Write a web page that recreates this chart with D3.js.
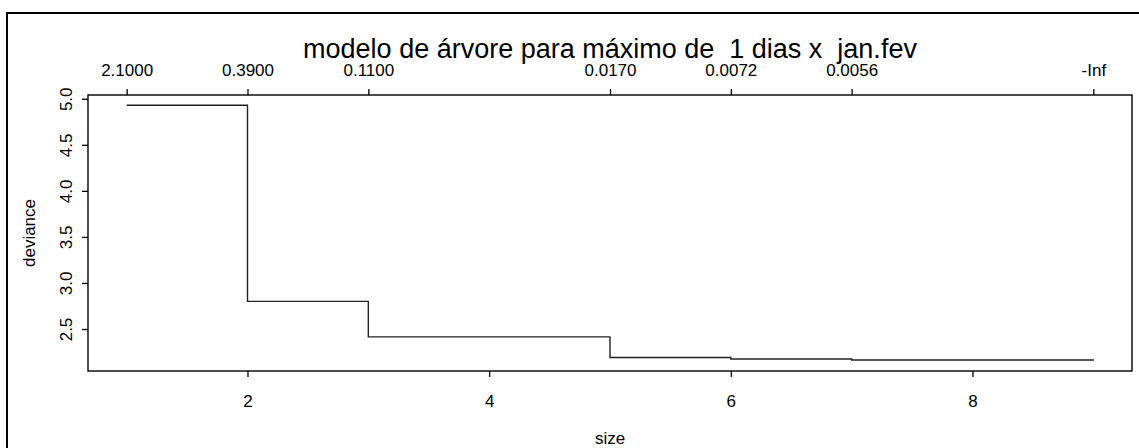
<!DOCTYPE html>
<html>
<head>
<meta charset="utf-8">
<script src="https://cdn.jsdelivr.net/npm/d3@7"></script>
<style>
  body { margin: 0; background: #fff; }
  svg text { font-family: "Liberation Sans", Arial, sans-serif; fill: #000; }
</style>
</head>
<body>
<div id="chart"></div>
<script>
const sizes = [1, 2, 3, 5, 6, 7, 9]
const deviance = [4.93, 2.80, 2.415, 2.19, 2.175, 2.163, 2.155]
const topLabels = ['2.1000', '0.3900', '0.1100', '0.0170', '0.0072', '0.0056', '-Inf']
const xTicks = [2, 4, 6, 8]
const yTicks = [2.5, 3.0, 3.5, 4.0, 4.5, 5.0]
const title = 'modelo de árvore para máximo de  1 dias x  jan.fev'

let width = 1139
let height = 448
let box = { left: 88, right: 1132, top: 95, bottom: 371 }

// R style 4% padding on both axes
let pad = (lo, hi) => [lo - (hi - lo) * 0.04, hi + (hi - lo) * 0.04]

let x = d3.scaleLinear()
    .domain(pad(d3.min(sizes), d3.max(sizes)))
    .range([box.left, box.right])

let y = d3.scaleLinear()
    .domain(pad(d3.min(deviance), d3.max(deviance)))
    .range([box.bottom, box.top])

let svg = d3.select('#chart')
    .append('svg')
    .attr('width', width)
    .attr('height', height)

// outer frame (only top and left show in the picture)
svg.append('rect')
    .attr('x', 7).attr('y', 13)
    .attr('width', width).attr('height', height)
    .attr('fill', 'none')
    .attr('stroke', '#000')
    .attr('stroke-width', 2)

let points = sizes.map((s, i) => [s, deviance[i]])

svg.append('path')
    .datum(points)
    .attr('fill', 'none')
    .attr('stroke', '#222')
    .attr('stroke-width', 1.4)
    .attr('d', d3.line()
        .x((d) => x(d[0]))
        .y((d) => y(d[1]))
        .curve(d3.curveStepAfter))

svg.append('rect')
    .attr('x', box.left).attr('y', box.top)
    .attr('width', box.right - box.left)
    .attr('height', box.bottom - box.top)
    .attr('fill', 'none')
    .attr('stroke', '#000')
    .attr('stroke-width', 1.4)

let axisStyle = (g) => {
    g.select('.domain').remove()
    g.selectAll('.tick line').attr('stroke', '#000').attr('stroke-width', 1.3)
    g.selectAll('.tick text').attr('font-size', 17).attr('font-family', null)
}

svg.append('g')
    .attr('transform', `translate(0, ${box.bottom})`)
    .call(d3.axisBottom(x).tickValues(xTicks).tickSize(6).tickPadding(18).tickFormat(d3.format('d')))
    .call(axisStyle)

svg.append('g')
    .attr('transform', `translate(0, ${box.top})`)
    .call(d3.axisTop(x).tickValues(sizes).tickSize(6).tickPadding(13)
        .tickFormat((d, i) => topLabels[i]))
    .call(axisStyle)

let yAxis = svg.append('g')
    .attr('transform', `translate(${box.left}, 0)`)
    .call(d3.axisLeft(y).tickValues(yTicks).tickSize(6).tickFormat(d3.format('.1f')))
    .call(axisStyle)

yAxis.selectAll('.tick text')
    .attr('transform', 'rotate(-90)')
    .attr('x', 0)
    .attr('y', -16)
    .attr('dy', 0)
    .attr('text-anchor', 'middle')

svg.append('text')
    .attr('x', (box.left + box.right) / 2)
    .attr('y', 58)
    .attr('text-anchor', 'middle')
    .attr('font-size', 27)
    .style('white-space', 'pre')
    .text(title)

svg.append('text')
    .attr('x', (box.left + box.right) / 2)
    .attr('y', 444)
    .attr('text-anchor', 'middle')
    .attr('font-size', 17)
    .text('size')

svg.append('text')
    .attr('transform', `translate(35, ${(box.top + box.bottom) / 2}) rotate(-90)`)
    .attr('text-anchor', 'middle')
    .attr('font-size', 17)
    .text('deviance')
</script>
</body>
</html>
